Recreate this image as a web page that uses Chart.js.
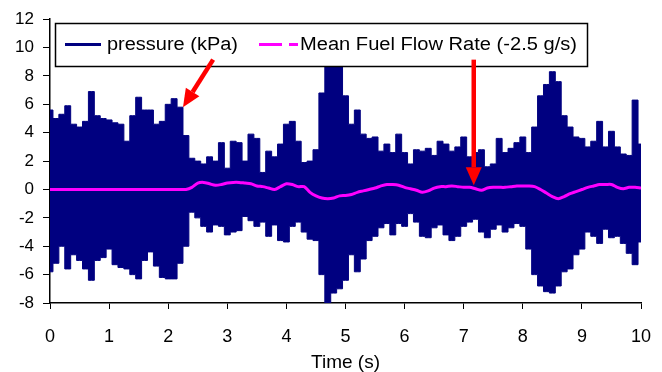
<!DOCTYPE html>
<html>
<head>
<meta charset="utf-8">
<script src="https://cdn.jsdelivr.net/npm/chart.js@4/dist/chart.umd.min.js"></script>
<style>html,body{margin:0;padding:0;background:#fff}canvas{display:block}</style>
</head>
<body>
<canvas id="c" width="662" height="372"></canvas>
<script>
// time axis (s), 0.1 s steps
const times=[0,0.1,0.2,0.3,0.4,0.5,0.6,0.7,0.8,0.9,1,1.1,1.2,1.3,1.4,1.5,1.6,1.7,1.8,1.9,2,2.1,2.2,2.3,2.4,2.5,2.6,2.7,2.8,2.9,3,3.1,3.2,3.3,3.4,3.5,3.6,3.7,3.8,3.9,4,4.1,4.2,4.3,4.4,4.5,4.6,4.7,4.8,4.9,5,5.1,5.2,5.3,5.4,5.5,5.6,5.7,5.8,5.9,6,6.1,6.2,6.3,6.4,6.5,6.6,6.7,6.8,6.9,7,7.1,7.2,7.3,7.4,7.5,7.6,7.7,7.8,7.9,8,8.1,8.2,8.3,8.4,8.5,8.6,8.7,8.8,8.9,9,9.1,9.2,9.3,9.4,9.5,9.6,9.7,9.8,9.9,10];
// pressure (kPa) signal envelope: top and bottom of the oscillation in each step
const pressureHigh=[5.6,5.0,5.3,5.9,4.6,4.4,4.8,6.9,5.2,5.0,4.9,4.7,4.6,3.4,5.2,6.5,5.6,5.6,4.6,4.8,6.0,6.4,5.8,3.8,2.2,2.0,1.8,2.3,2.0,3.3,1.5,3.4,3.3,2.0,3.9,3.6,1.2,2.7,2.3,3.2,4.6,4.8,3.4,1.9,2.0,2.8,6.8,9.4,9.8,9.5,6.6,4.6,5.6,3.9,3.6,3.7,2.7,3.2,2.6,3.9,2.6,1.8,2.8,2.7,2.9,2.4,3.4,3.2,2.7,3.0,3.7,2.3,2.6,2.8,1.6,1.8,3.6,2.6,2.9,3.3,3.7,2.6,4.4,6.6,7.4,8.3,7.6,5.2,4.4,3.7,3.6,3.0,3.4,4.8,3.0,4.1,3.0,2.5,2.4,6.3,3.2];
const pressureLow=[-5.8,-5.2,-4.0,-5.6,-4.6,-5.0,-5.6,-6.4,-5.0,-4.8,-4.2,-5.3,-5.5,-5.6,-6.0,-6.3,-5.0,-4.4,-5.4,-6.2,-6.3,-6.3,-5.2,-4.0,-1.6,-2.0,-2.6,-3.0,-2.5,-2.6,-3.2,-3.0,-2.9,-1.9,-2.2,-2.6,-2.3,-3.3,-2.5,-3.6,-3.7,-2.6,-2.3,-3.0,-3.5,-3.6,-6.0,-8.1,-7.3,-7.0,-6.4,-4.6,-5.8,-4.9,-3.6,-3.3,-2.7,-2.4,-3.2,-2.4,-2.6,-1.7,-2.3,-3.3,-3.4,-2.7,-2.5,-3.2,-3.6,-3.3,-2.6,-2.3,-2.1,-3.0,-3.4,-2.8,-2.5,-3.0,-2.7,-2.4,-2.6,-4.2,-6.0,-6.8,-7.2,-7.3,-6.8,-5.8,-5.6,-4.6,-4.2,-3.0,-3.3,-3.8,-2.8,-3.4,-3.3,-3.8,-4.5,-5.3,-3.7];
// mean fuel flow rate, offset by -2.5 g/s
const meanFuelFlow=[0,0,0,0,0,0,0,0,0,0,0,0,0,0,0,0,0,0,0,0,0,0,0,0,0.15,0.45,0.5,0.4,0.3,0.35,0.45,0.5,0.5,0.45,0.4,0.25,0.2,0.1,0.0,0.2,0.4,0.35,0.2,0.2,-0.2,-0.45,-0.6,-0.65,-0.6,-0.45,-0.42,-0.35,-0.2,-0.1,0.0,0.1,0.25,0.35,0.35,0.3,0.15,0.05,-0.05,-0.2,-0.1,0.1,0.2,0.2,0.25,0.2,0.15,0.15,0.05,-0.05,0.1,0.15,0.15,0.15,0.2,0.25,0.25,0.25,0.2,0.0,-0.25,-0.5,-0.65,-0.5,-0.3,-0.15,0.0,0.15,0.25,0.35,0.35,0.35,0.15,0.05,0.15,0.15,0.1];
const xTicks=[0,1,2,3,4,5,6,7,8,9,10];
const yTicks=[-8,-6,-4,-2,0,2,4,6,8,10,12];
const seriesNames=['pressure (kPa)','Mean Fuel Flow Rate (-2.5 g/s)'];
// annotation arrows [fromX,fromY,toX,toY] in data units
const arrows=[[2.76,9.15,2.25,5.8],[7.17,9.15,7.17,0.3]];

const NAVY='#000080',MAGENTA='#FF00FF',FONT='"Liberation Sans", Arial, sans-serif';
const pts=arr=>times.map((t,i)=>({x:t,y:arr[i]}));

function arrow(ctx,x1,y1,x2,y2){
  const a=Math.atan2(y2-y1,x2-x1),hl=18,hw=8;
  const bx=x2-hl*Math.cos(a),by=y2-hl*Math.sin(a);
  ctx.strokeStyle='#FF0000';ctx.fillStyle='#FF0000';ctx.lineWidth=4.5;ctx.lineCap='butt';
  ctx.beginPath();ctx.moveTo(x1,y1);ctx.lineTo(bx,by);ctx.stroke();
  ctx.beginPath();ctx.moveTo(x2,y2);
  ctx.lineTo(bx+hw*Math.sin(a),by-hw*Math.cos(a));
  ctx.lineTo(bx-hw*Math.sin(a),by+hw*Math.cos(a));
  ctx.closePath();ctx.fill();
}
function fitText(ctx,txt,x,y,w){
  const m=ctx.measureText(txt).width;
  ctx.save();ctx.translate(x,y);ctx.scale(w/m,1);ctx.fillText(txt,0,0);ctx.restore();
}

const overlay={id:'overlay',afterDraw(chart){
  const ctx=chart.ctx,xs=chart.scales.x,ys=chart.scales.y;
  ctx.save();
  // legend box inside plot
  ctx.fillStyle='#fff';ctx.fillRect(55,23,533,43);
  ctx.strokeStyle='#000';ctx.lineWidth=1.5;ctx.strokeRect(55.5,23.5,532,43);
  ctx.lineWidth=3;ctx.strokeStyle=NAVY;
  ctx.beginPath();ctx.moveTo(65,44.5);ctx.lineTo(101,44.5);ctx.stroke();
  ctx.strokeStyle=MAGENTA;ctx.setLineDash([23,7,9,40]);
  ctx.beginPath();ctx.moveTo(259,44.5);ctx.lineTo(298,44.5);ctx.stroke();
  ctx.setLineDash([]);
  ctx.fillStyle='#000';ctx.font='18px '+FONT;ctx.textBaseline='middle';ctx.textAlign='left';
  fitText(ctx,seriesNames[0],107,45,131);
  fitText(ctx,seriesNames[1],300,45,277);
  arrows.forEach(a=>arrow(ctx,xs.getPixelForValue(a[0]),ys.getPixelForValue(a[1]),xs.getPixelForValue(a[2]),ys.getPixelForValue(a[3])));
  ctx.restore();
}};

new Chart(document.getElementById('c'),{
  type:'line',
  data:{datasets:[
    {label:seriesNames[1],data:pts(meanFuelFlow),borderColor:MAGENTA,borderWidth:3,pointRadius:0,fill:false,tension:0.3},
    {label:seriesNames[0],data:pts(pressureHigh),borderColor:NAVY,backgroundColor:NAVY,borderWidth:1,pointRadius:0,fill:'+1',stepped:'middle'},
    {label:'_low',data:pts(pressureLow),borderColor:NAVY,backgroundColor:NAVY,borderWidth:1,pointRadius:0,fill:false,stepped:'middle'}
  ]},
  options:{
    responsive:false,animation:false,
    layout:{padding:{top:17,right:21,left:0,bottom:0}},
    plugins:{legend:{display:false},tooltip:{enabled:false}},
    scales:{
      x:{type:'linear',min:0,max:10,
        afterBuildTicks:s=>{s.ticks=xTicks.map(v=>({value:v}));},
        afterFit:s=>{s.height=69;s.paddingLeft=0;s.paddingRight=0;},
        grid:{drawOnChartArea:false,drawTicks:true,tickLength:6,color:'#000'},
        border:{color:'#000',width:1.5},
        ticks:{color:'#000',font:{family:FONT,size:18},padding:17,maxRotation:0},
        title:{display:true,text:'Time (s)',color:'#000',font:{family:FONT,size:19,lineHeight:1},padding:{top:0,bottom:0}}},
      y:{min:-8,max:12,
        afterBuildTicks:s=>{s.ticks=yTicks.map(v=>({value:v}));},
        afterFit:s=>{s.width=50;},
        grid:{drawOnChartArea:false,drawTicks:true,tickLength:7,color:'#000'},
        border:{color:'#000',width:1.5},
        ticks:{color:'#000',font:{family:FONT,size:17},padding:9}}
    }
  },
  plugins:[overlay]
});
</script>
</body>
</html>
